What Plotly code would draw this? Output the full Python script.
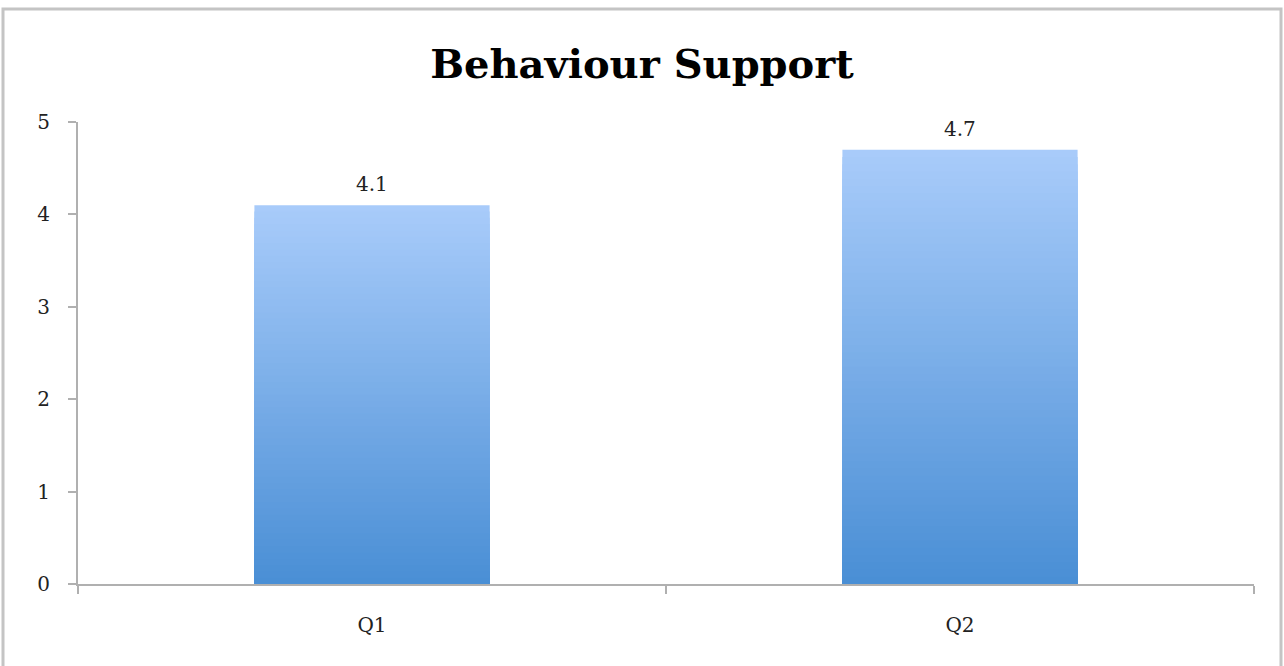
import plotly.graph_objects as go

categories = ["Q1", "Q2"]
values = [4.1, 4.7]
y_ticks = [0, 1, 2, 3, 4, 5]
title_text = "Behaviour Support"

TOP = (168, 203, 250)
BOT = (74, 143, 213)
N = 60

def mix(t):
    return "rgb(%d,%d,%d)" % tuple(round(a + (b - a) * t) for a, b in zip(TOP, BOT))

fig = go.Figure()
for k in range(N):
    frac = 1 - k / N
    fig.add_trace(go.Bar(
        x=categories, y=[v * frac for v in values],
        marker=dict(color=mix(k / (N - 1)), line=dict(width=0)),
        width=0.4, hoverinfo="skip", showlegend=False,
    ))

for c, v in zip(categories, values):
    fig.add_annotation(x=c, y=v, text=str(v), showarrow=False, yanchor="bottom",
                       yshift=7, font=dict(family="DejaVu Serif", size=20, color="#222"))

fig.update_layout(
    barmode="overlay",
    width=1284, height=666,
    margin=dict(l=78, r=30, t=122, b=82),
    paper_bgcolor="white", plot_bgcolor="white",
    title=dict(text="<b>%s</b>" % title_text, x=0.5, xanchor="center",
               y=1 - 64 / 666, yanchor="middle",
               font=dict(family="DejaVu Serif", size=40, color="black")),
    font=dict(family="DejaVu Serif", size=20, color="#222"),
    xaxis=dict(type="category", tickson="boundaries", ticks="outside", ticklen=8,
               tickcolor="#b0b0b0", tickwidth=2, showline=True, linecolor="#b0b0b0",
               linewidth=2, showgrid=False, ticklabelstandoff=22),
    yaxis=dict(range=[0, 5], tickvals=y_ticks, ticks="outside", ticklen=8,
               tickcolor="#b0b0b0", tickwidth=2, showline=True, linecolor="#b0b0b0",
               linewidth=2, showgrid=False, zeroline=False, ticklabelstandoff=14),
    shapes=[dict(type="rect", xref="paper", yref="paper",
                 x0=(3 - 78) / 1176, x1=(1281 - 78) / 1176,
                 y0=-0.3, y1=(584 - 9) / 462,
                 line=dict(color="#c4c4c4", width=3), layer="below")],
)

fig.write_html("out.html", config={"displayModeBar": False},
               post_script="document.body.style.margin='0';")
